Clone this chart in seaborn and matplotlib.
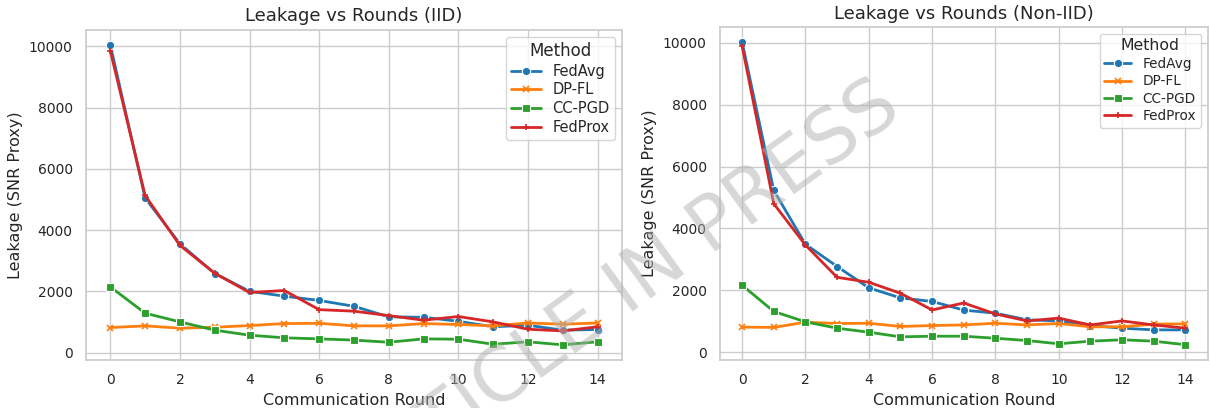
import matplotlib
matplotlib.use('Agg')
import matplotlib.pyplot as plt
import pandas as pd
import seaborn as sns

# ------------------------------------------------------------
# data
# ------------------------------------------------------------
rounds = list(range(15))
methods = ['FedAvg', 'DP-FL', 'CC-PGD', 'FedProx']

iid_fedavg = [10050, 5050, 3550, 2580, 2000, 1840, 1700, 1510, 1165, 1150, 1020, 840, 890, 730, 750]
iid_dpfl = [815, 870, 795, 825, 880, 945, 955, 870, 870, 945, 915, 870, 965, 925, 965]
iid_ccpgd = [2145, 1285, 1000, 730, 565, 480, 445, 405, 335, 445, 435, 270, 350, 250, 350]
iid_fedprox = [9860, 5130, 3500, 2590, 1960, 2025, 1400, 1350, 1205, 1055, 1175, 1000, 760, 705, 840]

noniid_fedavg = [10030, 5230, 3490, 2770, 2080, 1755, 1640, 1360, 1260, 1045, 1010, 860, 775, 720, 720]
noniid_dpfl = [810, 800, 970, 925, 935, 830, 860, 880, 935, 880, 925, 820, 820, 905, 915]
noniid_ccpgd = [2165, 1315, 980, 775, 645, 495, 515, 515, 450, 375, 270, 355, 400, 355, 240]
noniid_fedprox = [9900, 4800, 3465, 2420, 2260, 1905, 1365, 1590, 1235, 1010, 1100, 880, 1010, 880, 775]


def to_frame(series):
    rows = []
    for name, vals in zip(methods, series):
        for r, v in zip(rounds, vals):
            rows.append({'Round': r, 'Leakage': v, 'Method': name})
    return pd.DataFrame(rows)


iid_df = to_frame([iid_fedavg, iid_dpfl, iid_ccpgd, iid_fedprox])
noniid_df = to_frame([noniid_fedavg, noniid_dpfl, noniid_ccpgd, noniid_fedprox])

# ------------------------------------------------------------
# plot
# ------------------------------------------------------------
sns.set_theme(style='whitegrid')
plt.rcParams['font.family'] = ['DejaVu Sans']

fig = plt.figure(figsize=(12.1, 4.08), dpi=100)
ax1 = fig.add_axes([0.071, 0.118, 0.443, 0.809])
ax2 = fig.add_axes([0.595, 0.118, 0.403, 0.816])

colors = sns.color_palette('tab10', 4)
markers = ['o', 'x', 's', '+']

for ax, df, title, lfs in [(ax1, iid_df, 'Leakage vs Rounds (IID)', 10.5),
                           (ax2, noniid_df, 'Leakage vs Rounds (Non-IID)', 9.8)]:
    for name, c, m in zip(methods, colors, markers):
        sub = df[df['Method'] == name]
        line_art = m in 'x+'
        sns.lineplot(data=sub, x='Round', y='Leakage', color=c, marker=m,
                     markersize=5 if line_art else 6,
                     markeredgewidth=1.2 if line_art else 0.8,
                     markeredgecolor=c if line_art else 'white',
                     linewidth=2, label=name, ax=ax)
    ax.set_title(title, fontsize=13)
    ax.set_xlabel('Communication Round', fontsize=11.5)
    ax.set_ylabel('Leakage (SNR Proxy)', fontsize=11.5)
    ax.set_xticks(range(0, 15, 2))
    ax.tick_params(labelsize=10)
    ax.legend(title='Method', fontsize=lfs, title_fontsize=lfs + 1.5,
              loc='upper right', labelspacing=0.25, borderpad=0.35)

# watermark
fig.text(0.512, 0.275, 'ARTICLE IN PRESS', fontsize=54, color='#b0b0b0', alpha=0.5,
         rotation=36, ha='center', va='center', zorder=10)

fig.savefig('out.png', dpi=100)
